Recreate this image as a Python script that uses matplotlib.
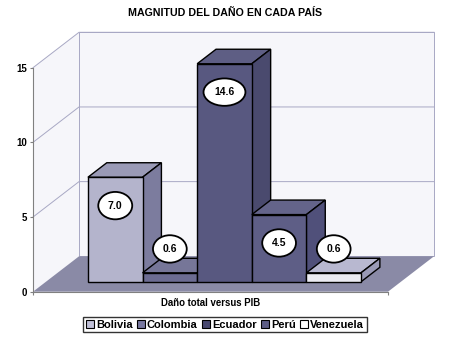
import matplotlib
matplotlib.use('Agg')
import matplotlib.pyplot as plt
from matplotlib.patches import Polygon, Patch

plt.rcParams['font.family'] = ['Liberation Sans', 'DejaVu Sans']
plt.rcParams['font.weight'] = 'bold'

# datos
paises = ['Bolivia', 'Colombia', 'Ecuador', 'Perú', 'Venezuela']
valores = [7.0, 0.6, 14.6, 4.5, 0.6]
etiquetas = ['7.0', '0.6', '14.6', '4.5', '0.6']
categoria = 'Daño total versus PIB'
titulo = 'MAGNITUD DEL DAÑO EN CADA PAÍS'
yticks = [0, 5, 10, 15]

# estilos (frente, arriba, lado, leyenda)
c_front = ['#b4b4cc', '#6c6c92', '#585880', '#5e5e86', '#ececf2']
c_top = ['#9a9ab6', '#767698', '#5e5e84', '#64648a', '#b8b8d0']
c_side = ['#7c7c9e', '#5c5c80', '#4a4a6e', '#50507a', '#9a9ab6']
c_leg = ['#c0c0d8', '#7878a0', '#484870', '#5c5c84', '#ffffff']

# perspectiva: vector de profundidad en unidades de datos
DX, DY = 0.8425, 2.371
d0, d1 = 0.28, 0.69
x0, x1 = -1.27, 5.23
ymax = 15

def P(x, y, d):
    return (x + d * DX, y + d * DY)

fig = plt.figure(figsize=(4.5, 3.37), dpi=100)
ax = fig.add_axes([33 / 450, 45.3 / 337, 355 / 450, 224 / 337])
ax.set_xlim(x0, x1)
ax.set_ylim(0, ymax)

wall = '#f6f6fa'
wline = '#a8a8c4'
# pared izquierda y fondo
ax.add_patch(Polygon([P(x0, 0, 0), P(x0, 0, 1), P(x0, ymax, 1), P(x0, ymax, 0)],
                     fc=wall, ec='none', zorder=0.5, clip_on=False))
ax.add_patch(Polygon([P(x0, 0, 1), P(x1, 0, 1), P(x1, ymax, 1), P(x0, ymax, 1)],
                     fc=wall, ec=wline, lw=0.7, zorder=0.5, clip_on=False))
for v in yticks[1:]:
    a, b, c = P(x0, v, 0), P(x0, v, 1), P(x1, v, 1)
    ax.plot([a[0], b[0], c[0]], [a[1], b[1], c[1]], color=wline, lw=0.7,
            zorder=0.6, clip_on=False)
# piso
ax.add_patch(Polygon([P(x0, 0, 0), P(x1, 0, 0), P(x1, 0, 1), P(x0, 0, 1)],
                     fc='#8a8aa6', ec='none', zorder=0.7, clip_on=False))

# barras
for i, v in enumerate(valores):
    xl, xr = i - 0.5, i + 0.5
    top = [P(xl, v, d0), P(xr, v, d0), P(xr, v, d1), P(xl, v, d1)]
    side = [P(xr, 0, d0), P(xr, 0, d1), P(xr, v, d1), P(xr, v, d0)]
    front = [P(xl, 0, d0), P(xr, 0, d0), P(xr, v, d0), P(xl, v, d0)]
    for pts, col in [(top, c_top[i]), (side, c_side[i]), (front, c_front[i])]:
        ax.add_patch(Polygon(pts, fc=col, ec='black', lw=1.0, joinstyle='miter',
                             zorder=2 + i * 0.1, clip_on=False))
    ly = v - 1.9 if v > 3 else v + 1.6
    cx, cy = P(i, ly, d0)
    ax.text(cx, cy, etiquetas[i], ha='center', va='center', fontsize=7.5,
            fontweight='bold', zorder=10,
            bbox=dict(boxstyle='ellipse,pad=0.45', fc='white', ec='black', lw=1.3))

# ejes
for s in ['top', 'right']:
    ax.spines[s].set_visible(False)
for s in ['left', 'bottom']:
    ax.spines[s].set_color('#808080')
    ax.spines[s].set_linewidth(0.8)
ax.set_yticks(yticks)
ax.set_yticklabels([str(t) for t in yticks], fontsize=7, fontweight='bold')
ax.set_xticks([x0, x1])
ax.set_xticklabels(['', ''])
ax.tick_params(axis='both', length=2.5, width=0.8, color='#808080', pad=1.5)
ax.set_xlabel(categoria, fontsize=6.9, fontweight='bold', labelpad=0.5)
ax.set_facecolor('none')

fig.text(0.5, 1 - 13 / 337, titulo, ha='center', va='center', fontsize=7.7,
         fontweight='bold')

handles = [Patch(fc=c, ec='black', lw=0.8) for c in c_leg]
leg = fig.legend(handles, paises, loc='center', bbox_to_anchor=(0.5, 12.5 / 337),
                 ncol=5, fontsize=8, frameon=True, fancybox=False,
                 handlelength=0.7, handleheight=0.7, handletextpad=0.2,
                 columnspacing=0.4, borderpad=0.25, borderaxespad=0)
leg.get_frame().set_edgecolor('black')
leg.get_frame().set_linewidth(1.0)

fig.savefig('out.png', dpi=100)
